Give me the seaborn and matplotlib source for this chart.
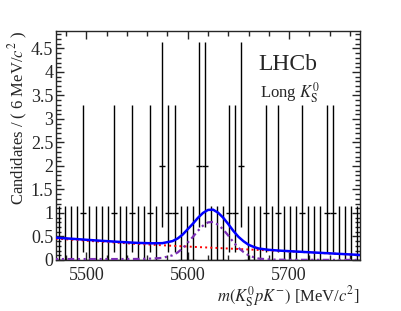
import numpy as np
import pandas as pd
import matplotlib
matplotlib.use("Agg")
import matplotlib.pyplot as plt
from matplotlib.ticker import MultipleLocator
import seaborn as sns

# Histogramme: 50 bins de 6 MeV entre 5470 et 5770
mass_lo = 5470
bin_width = 6
counts = [0, 0, 0, 0, 1, 0, 0, 0, 0, 1,
          0, 0, 1, 0, 0, 1, 0, 2, 1, 1,
          0, 0, 0, 2, 2, 0, 0, 0, 1, 1,
          2, 0, 0, 0, 1, 0, 1, 0, 0, 0,
          1, 0, 0, 0, 1, 1, 0, 0, 0, 0]

# Erreurs de Poisson (convention ROOT) : n -> (bas, haut)
poisson_err = {0: (0.0, 1.148), 1: (0.827, 2.299), 2: (1.291, 2.637)}

# Courbes du fit
curve_mass = [5470, 5490, 5510, 5530, 5550, 5565, 5575, 5585, 5590, 5595,
              5600, 5605, 5610, 5615, 5620, 5625, 5630, 5635, 5640, 5645,
              5650, 5655, 5660, 5665, 5670, 5680, 5690, 5710, 5730, 5750, 5770]
total_fit = [0.475, 0.445, 0.415, 0.388, 0.364, 0.355, 0.358, 0.402, 0.457, 0.541,
             0.656, 0.770, 0.895, 1.000, 1.065, 1.070, 1.005, 0.899, 0.764, 0.619,
             0.494, 0.399, 0.324, 0.279, 0.244, 0.216, 0.200, 0.176, 0.153, 0.130, 0.107]
background = [0.455, 0.425, 0.395, 0.368, 0.342, 0.325, 0.313, 0.302, 0.297, 0.291,
              0.286, 0.280, 0.275, 0.270, 0.265, 0.260, 0.255, 0.249, 0.244, 0.239,
              0.234, 0.229, 0.224, 0.219, 0.214, 0.204, 0.194, 0.172, 0.150, 0.128, 0.105]
signal = [0.020, 0.020, 0.020, 0.020, 0.022, 0.030, 0.045, 0.100, 0.160, 0.250,
          0.370, 0.490, 0.620, 0.730, 0.800, 0.810, 0.750, 0.650, 0.520, 0.380,
          0.260, 0.170, 0.100, 0.060, 0.030, 0.012, 0.006, 0.004, 0.003, 0.002, 0.002]

x_ticks = [5500, 5600, 5700]
y_ticks = [0, 0.5, 1, 1.5, 2, 2.5, 3, 3.5, 4, 4.5]
y_tick_labels = ["0", "0.5", "1", "1.5", "2", "2.5", "3", "3.5", "4", "4.5"]

sns.set_style("ticks")
serif = ["Liberation Serif", "DejaVu Serif"]
plt.rcParams["font.family"] = serif
plt.rcParams["font.serif"] = serif
plt.rcParams["mathtext.fontset"] = "stix"

centers = mass_lo + bin_width * (np.arange(len(counts)) + 0.5)
err_lo = [poisson_err[n][0] for n in counts]
err_hi = [poisson_err[n][1] for n in counts]

fig = plt.figure(figsize=(4.01, 3.11), dpi=100)
ax = fig.add_axes([0.1397, 0.164, 0.7581, 0.7363])

ax.errorbar(centers, counts, yerr=[err_lo, err_hi], xerr=bin_width / 2,
            fmt="none", ecolor="black", elinewidth=1.0, capsize=0, zorder=2)

df = pd.DataFrame({"m": curve_mass, "tot": total_fit, "bkg": background, "sig": signal})
sns.lineplot(data=df, x="m", y="bkg", ax=ax, color="red", linestyle=":", linewidth=1.4, zorder=3)
sns.lineplot(data=df, x="m", y="sig", ax=ax, color="#7b2fb5", linewidth=1.6, zorder=3)
ax.lines[-1].set_dashes((1, 1.6, 1, 1.6, 3, 1.6))
sns.lineplot(data=df, x="m", y="tot", ax=ax, color="blue", linewidth=1.8, zorder=4)

ax.set_xlim(5470, 5770)
ax.set_ylim(0, 4.87)
ax.set_xticks(x_ticks, labels=[str(t) for t in x_ticks], fontfamily=serif, fontsize=13)
ax.set_yticks(y_ticks, labels=y_tick_labels, fontfamily=serif, fontsize=13)
ax.xaxis.set_minor_locator(MultipleLocator(20))
ax.yaxis.set_minor_locator(MultipleLocator(0.1))
ax.tick_params(which="both", direction="in", top=True, right=True, width=1)
ax.tick_params(which="major", length=6)
ax.tick_params(which="minor", length=3.5)
ax.tick_params(axis="x", which="major", pad=5)
ax.tick_params(axis="y", which="major", pad=2)
for s in ax.spines.values():
    s.set_linewidth(1.0)

ax.set_xlabel(r"$m(K^0_{\rm S}pK^{-})$ [MeV/$c^2$]", fontsize=12, ha="right", va="center")
ax.xaxis.set_label_coords(1.0, -0.16)
ax.set_ylabel(r"Candidates / ( 6 MeV/$c^2$ )", fontsize=12, ha="right", va="center")
ax.yaxis.set_label_coords(-0.125, 1.0)

ax.text(0.665, 0.855, "LHCb", transform=ax.transAxes, fontsize=17, va="center")
ax.text(0.67, 0.73, r"Long $K^0_{\rm S}$", transform=ax.transAxes, fontsize=12, va="center")

fig.savefig("out.png", dpi=100)
